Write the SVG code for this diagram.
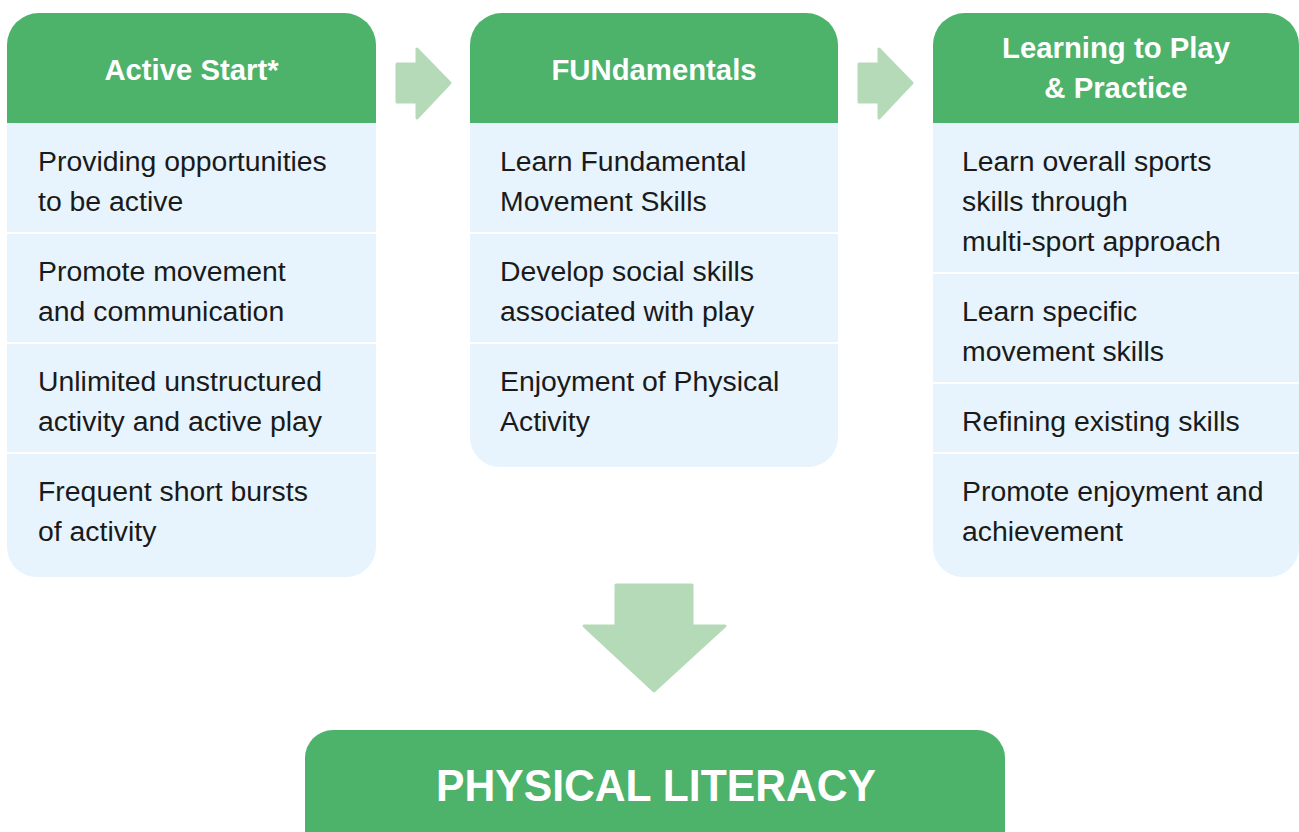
<svg xmlns="http://www.w3.org/2000/svg" width="1299" height="832" viewBox="0 0 1299 832">
<style>
.hdr{fill:#4DB26A}
.cell{fill:#E7F4FD}
.arr{fill:#B5DAB7}
.ht{font-family:"Liberation Sans",Arial,sans-serif;font-weight:bold;font-size:29.3px;fill:#fff;text-anchor:middle}
.bt{font-family:"Liberation Sans",Arial,sans-serif;font-size:28.4px;fill:#1a1a1a}
.pl{font-family:"Liberation Sans",Arial,sans-serif;font-weight:bold;font-size:44.5px;fill:#fff;text-anchor:middle}
</style>
<rect width="1299" height="832" fill="#fff"/>

<g id="col-active-start">
  <path class="hdr" d="M7,123 V45 A32,32 0 0 1 39,13 H344 A32,32 0 0 1 376,45 V123 Z"/>
  <text class="ht" x="191.5" y="80">Active Start*</text>
  <rect class="cell" x="7" y="123" width="369" height="109"/>
  <rect class="cell" x="7" y="234" width="369" height="108"/>
  <rect class="cell" x="7" y="344" width="369" height="108"/>
  <path class="cell" d="M7,454 H376 V547 A30,30 0 0 1 346,577 H37 A30,30 0 0 1 7,547 Z"/>
  <text class="bt" x="38" y="171">Providing opportunities</text>
  <text class="bt" x="38" y="211">to be active</text>
  <text class="bt" x="38" y="281">Promote movement</text>
  <text class="bt" x="38" y="321">and communication</text>
  <text class="bt" x="38" y="391">Unlimited unstructured</text>
  <text class="bt" x="38" y="431">activity and active play</text>
  <text class="bt" x="38" y="501">Frequent short bursts</text>
  <text class="bt" x="38" y="541">of activity</text>
</g>

<g id="col-fundamentals">
  <path class="hdr" d="M470,123 V45 A32,32 0 0 1 502,13 H806 A32,32 0 0 1 838,45 V123 Z"/>
  <text class="ht" x="654" y="80">FUNdamentals</text>
  <rect class="cell" x="470" y="123" width="368" height="109"/>
  <rect class="cell" x="470" y="234" width="368" height="108"/>
  <path class="cell" d="M470,344 H838 V437 A30,30 0 0 1 808,467 H500 A30,30 0 0 1 470,437 Z"/>
  <text class="bt" x="500" y="171">Learn Fundamental</text>
  <text class="bt" x="500" y="211">Movement Skills</text>
  <text class="bt" x="500" y="281">Develop social skills</text>
  <text class="bt" x="500" y="321">associated with play</text>
  <text class="bt" x="500" y="391">Enjoyment of Physical</text>
  <text class="bt" x="500" y="431">Activity</text>
</g>

<g id="col-learning-to-play">
  <path class="hdr" d="M933,123 V45 A32,32 0 0 1 965,13 H1267 A32,32 0 0 1 1299,45 V123 Z"/>
  <text class="ht" x="1116" y="58">Learning to Play</text>
  <text class="ht" x="1116" y="98">&amp; Practice</text>
  <rect class="cell" x="933" y="123" width="366" height="149"/>
  <rect class="cell" x="933" y="274" width="366" height="108"/>
  <rect class="cell" x="933" y="384" width="366" height="68"/>
  <path class="cell" d="M933,454 H1299 V547 A30,30 0 0 1 1269,577 H963 A30,30 0 0 1 933,547 Z"/>
  <text class="bt" x="962" y="171">Learn overall sports</text>
  <text class="bt" x="962" y="211">skills through</text>
  <text class="bt" x="962" y="251">multi-sport approach</text>
  <text class="bt" x="962" y="321">Learn specific</text>
  <text class="bt" x="962" y="361">movement skills</text>
  <text class="bt" x="962" y="431">Refining existing skills</text>
  <text class="bt" x="962" y="501">Promote enjoyment and</text>
  <text class="bt" x="962" y="541">achievement</text>
</g>

<g id="physical-literacy">
  <path class="hdr" d="M305,840 V758 A28,28 0 0 1 333,730 H977 A28,28 0 0 1 1005,758 V840 Z"/>
  <text class="pl" x="656" y="801" textLength="440" lengthAdjust="spacingAndGlyphs">PHYSICAL LITERACY</text>
</g>

<g id="connectors" stroke="#B5DAB7" stroke-width="3" stroke-linejoin="round">
  <path class="arr" d="M397,64 H417 V49 L450,83 L417,118 V102 H397 Z"/>
  <path class="arr" d="M859,64 H879 V49 L912,83 L879,118 V102 H859 Z"/>
  <path class="arr" d="M616,585 H692 V626 H725 L654,691 L584,626 H616 Z"/>
</g>
</svg>
